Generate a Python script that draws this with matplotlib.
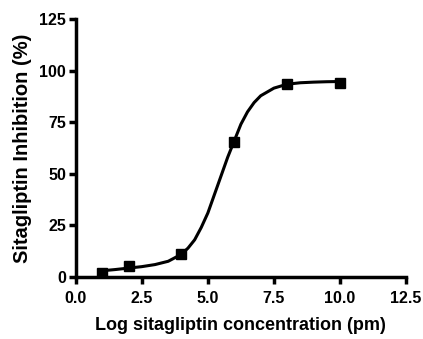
import matplotlib.pyplot as plt

plt.rcParams['font.family'] = ['Liberation Sans', 'DejaVu Sans']
plt.rcParams['font.weight'] = 'bold'

# Measured points
log_conc = [1, 2, 4, 6, 8, 10]
inhibition = [1.8, 5.5, 11.2, 65.6, 93.7, 94.1]

# Fitted curve
curve_x = [1.0, 1.5, 2.0, 2.5, 3.0, 3.5, 4.0, 4.25, 4.5, 4.75, 5.0, 5.25, 5.5,
           5.75, 6.0, 6.25, 6.5, 6.75, 7.0, 7.5, 8.0, 8.5, 9.0, 9.5, 10.0]
curve_y = [3.0, 3.6, 4.3, 5.0, 6.0, 7.6, 11.0, 14.0, 18.0, 24.0, 31.0, 40.0, 49.0,
           58.0, 66.0, 74.0, 80.0, 84.5, 87.8, 91.5, 93.4, 94.1, 94.4, 94.6, 94.7]

xticks = [0.0, 2.5, 5.0, 7.5, 10.0, 12.5]
yticks = [0, 25, 50, 75, 100, 125]

fig = plt.figure(figsize=(4.23, 3.39), dpi=100)
ax = fig.add_axes([0.179, 0.183, 0.781, 0.761])

ax.plot(curve_x, curve_y, color='black', lw=2.2, zorder=2)
ax.plot(log_conc, inhibition, 's', color='black', ms=6.5, zorder=3)

ax.set_xlim(0, 12.5)
ax.set_ylim(0, 125)
ax.set_xticks(xticks)
ax.set_xticklabels(['%.1f' % t for t in xticks])
ax.set_yticks(yticks)

for s in ['top', 'right']:
    ax.spines[s].set_visible(False)
for s in ['left', 'bottom']:
    ax.spines[s].set_linewidth(2.5)
ax.tick_params(width=2.5, length=5, labelsize=11.5, direction='out')
ax.tick_params(axis='x', pad=5)
ax.tick_params(axis='y', pad=2)

ax.set_xlabel('Log sitagliptin concentration (pm)', fontsize=13, fontweight='bold', labelpad=8)
ax.set_ylabel('Sitagliptin Inhibition (%)', fontsize=14.5, fontweight='bold', labelpad=5)

fig.savefig('out.png', dpi=100)
